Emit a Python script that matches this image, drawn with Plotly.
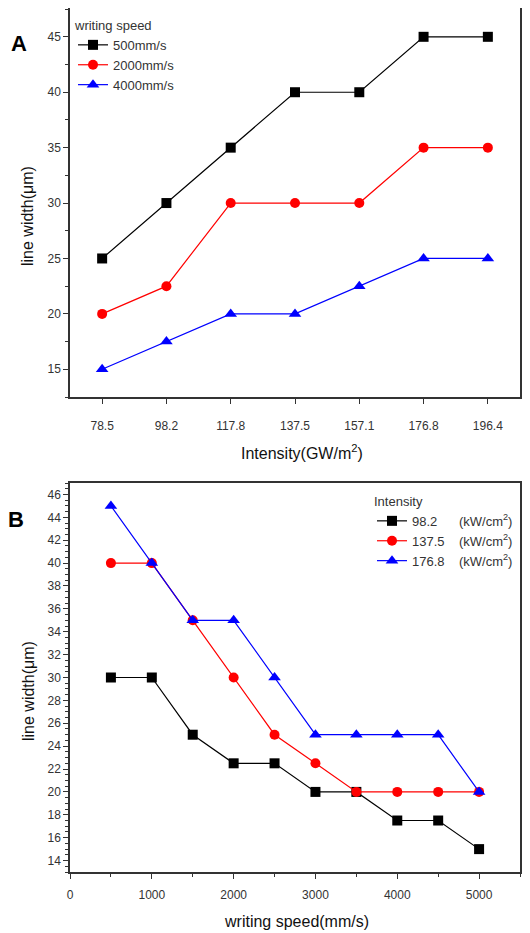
import plotly.graph_objects as go

# Panel A data
intensity_cats = ["78.5", "98.2", "117.8", "137.5", "157.1", "176.8", "196.4"]
a_500 = [25, 30, 35, 40, 40, 45, 45]
a_2000 = [20, 22.5, 30, 30, 30, 35, 35]
a_4000 = [15, 17.5, 20, 20, 22.5, 25, 25]

# Panel B data
speeds = [500, 1000, 1500, 2000, 2500, 3000, 3500, 4000, 4500, 5000]
b_982 = [30, 30, 25, 22.5, 22.5, 20, 20, 17.5, 17.5, 15]
b_1375 = [40, 40, 35, 30, 25, 22.5, 20, 20, 20, 20]
b_1768 = [45, 40, 35, 35, 30, 25, 25, 25, 25, 20]

FONT = "Liberation Sans, Arial, sans-serif"
TXT = "#333333"
NB = "\u00a0"

fig = go.Figure()

def add(x, y, name, color, symbol, size, xa, ya, legend):
    fig.add_trace(go.Scatter(
        x=x, y=y, name=name, mode="lines+markers",
        line=dict(color=color, width=1.2),
        marker=dict(color=color, symbol=symbol, size=size),
        xaxis=xa, yaxis=ya, legend=legend))

add(intensity_cats, a_500, "500mm/s", "#000000", "square", 10, "x", "y", "legend")
add(intensity_cats, a_2000, "2000mm/s", "#ff0000", "circle", 10, "x", "y", "legend")
add(intensity_cats, a_4000, "4000mm/s", "#0000ff", "triangle-up", 11, "x", "y", "legend")

add(speeds, b_982, "98.2" + NB * 6 + "(kW/cm<sup>2</sup>)", "#000000", "square", 10, "x2", "y2", "legend2")
add(speeds, b_1375, "137.5" + NB * 4 + "(kW/cm<sup>2</sup>)", "#ff0000", "circle", 10, "x2", "y2", "legend2")
add(speeds, b_1768, "176.8" + NB * 4 + "(kW/cm<sup>2</sup>)", "#0000ff", "triangle-up", 11, "x2", "y2", "legend2")

# page body has an 8px default margin; positions below are in screen pixels
OFF = 8
W, H = 530 - OFF, 933 - OFF
def px(v): return (v - OFF) / W
def py(v): return 1 - (v - OFF) / H

axis_common = dict(
    showline=True, linecolor="#333333", linewidth=1.5, mirror=True,
    ticks="outside", ticklen=5, tickwidth=1, tickcolor="#333333",
    showgrid=False, zeroline=False, automargin=False,
    tickfont=dict(family=FONT, size=12, color=TXT),
)

def ann(text, x, y, size=16, angle=0, color="#111111"):
    return dict(text=text, x=px(x), y=py(y), xref="paper", yref="paper",
                xanchor="center", yanchor="middle", showarrow=False,
                textangle=angle, font=dict(family=FONT, size=size, color=color))

fig.update_layout(
    width=W, height=H,
    margin=dict(l=0, r=0, t=0, b=0),
    paper_bgcolor="white", plot_bgcolor="white",
    font=dict(family=FONT, color=TXT),
    xaxis=dict(**axis_common, domain=[px(70), px(520)], anchor="y",
               type="category", range=[-0.5, 6.5], ticklabelstandoff=12),
    yaxis=dict(**axis_common, domain=[py(397), py(8)], anchor="x",
               range=[12.5, 47.6], dtick=5, tick0=0,
               minor=dict(ticks="outside", ticklen=3, dtick=2.5, tickcolor="#333333")),
    xaxis2=dict(**axis_common, domain=[px(70), px(520)], anchor="y2",
                range=[0, 5500], dtick=1000, tick0=0,
                minor=dict(ticks="outside", ticklen=3, dtick=500, tickcolor="#333333"),
                ticklabelstandoff=6),
    yaxis2=dict(**axis_common, domain=[py(872), py(483)], anchor="x2",
                range=[13, 47], dtick=2, tick0=0,
                minor=dict(ticks="outside", ticklen=3, dtick=0.5, tickcolor="#333333")),
    legend=dict(x=px(73), y=py(13), xanchor="left", yanchor="top",
                bgcolor="rgba(0,0,0,0)", tracegroupgap=0,
                title=dict(text="writing speed", font=dict(family=FONT, size=13, color=TXT)),
                font=dict(family=FONT, size=13, color=TXT)),
    legend2=dict(x=px(372), y=py(489), xanchor="left", yanchor="top",
                 bgcolor="rgba(0,0,0,0)", tracegroupgap=0,
                 title=dict(text="Intensity", font=dict(family=FONT, size=13, color=TXT)),
                 font=dict(family=FONT, size=13, color=TXT)),
    showlegend=True,
    annotations=[
        ann("<b>A</b>", 19, 43, size=22, color="#000"),
        ann("<b>B</b>", 16, 519, size=22, color="#000"),
        ann("Intensity(GW/m<sup>2</sup>)", 302, 452, size=16),
        ann("writing speed(mm/s)", 296, 921, size=16),
        ann("line width(μm)", 27, 216, angle=-90),
        ann("line width(μm)", 28, 691, angle=-90),
    ],
)

fig.write_html("out.html")
